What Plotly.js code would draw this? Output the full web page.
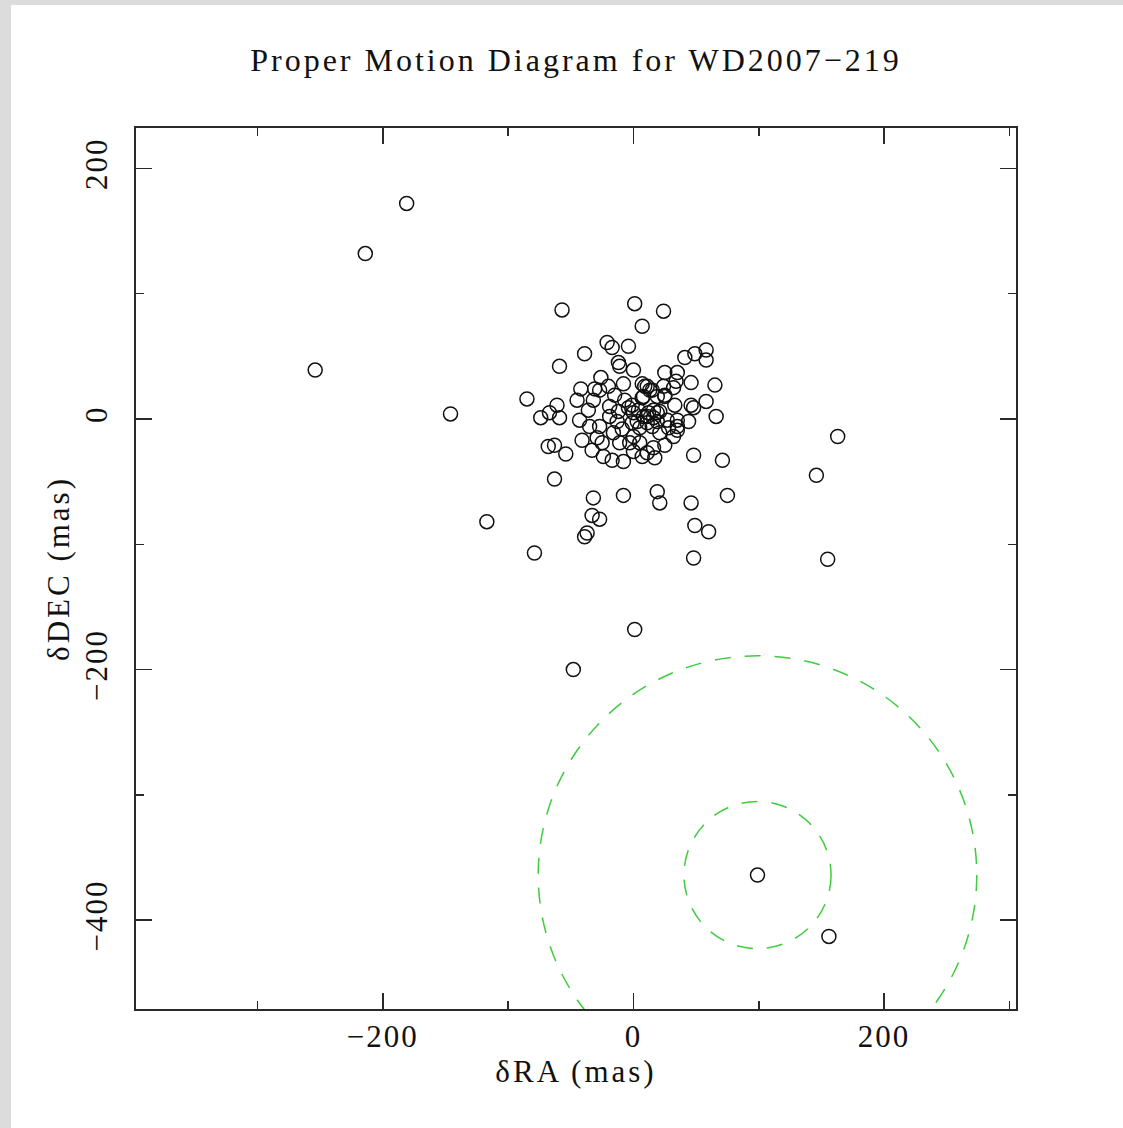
<!DOCTYPE html>
<html>
<head>
<meta charset="utf-8">
<script src="https://cdn.plot.ly/plotly-3.0.1.min.js"></script>
<style>
  html, body { margin: 0; padding: 0; background: #dcdcdc; }
  #chart { position: absolute; left: 11px; top: 5px; width: 1112px; height: 1123px; background: #fff; }
  .gtitle, .g-xtitle text, .g-ytitle text { letter-spacing: 3px; }
  .xtick text, .ytick text { letter-spacing: 2px; }
</style>
</head>
<body>
<div id="chart"></div>
<script>
// Relative proper motions of field stars (mas)
const dRA = [
  -181, -214, -254, -146, -117, -79, -48, 1, 163, 146, 155, 156,
  -57, 1, 24, 7, -21, -17, -4, -39, -59, -12, -11, 0,
  41, 49, 58, 58, 25, 35, -26, -20, -8, 7, 9, 24, 34, 32, 46, 65, 25,
  -42, -31, -45, -85, -61, -67, -74, -59, -19, -1, 7,
  33, 46, 48, 58, 66, 35, 44, 35,
  -35, -41, -29, -25, -16, -9, 0, 5,
  -33, -24, -17, -8, -11, 7, 11, 17, 16, 25, 32, 35,
  -68, -63, -54, 48, 71, -63, -8, 19, 21, 46, 75,
  -32, -33, -27, -37, -39, 49, 60, 48,
  11, 13, 8, 16, 11, 19,
  -4, 0, 4, 8, 12, 16, 3, 11, 19, -1, 5, 15, 21, 27, 25, 19, 15,
  -19, -13, -27, -12, -7, -15, -27, -32, -36, -43, -3, 0, 21, 28
];
const dDEC = [
  172, 132, 39, 4, -82, -107, -200, -168, -14, -45, -112, -413,
  87, 92, 86, 74, 61, 57, 58, 52, 42, 45, 42, 39,
  49, 52, 55, 47, 37, 37, 33, 26, 28, 28, 26, 26, 30, 25, 29, 27, 18,
  24, 24, 15, 16, 11, 5, 1, 1, 10, 11, 17,
  11, 11, 9, 14, 2, -1, -2, -6,
  -6, -17, -15, -19, -11, -8, -14, -19,
  -25, -30, -33, -34, -19, -30, -27, -31, -23, -21, -14, -9,
  -22, -21, -28, -29, -33, -48, -61, -58, -67, -67, -61,
  -63, -77, -80, -91, -94, -85, -90, -111,
  26, 23, 18, 7, 2, 5,
  9, 5, 7, 2, 5, 1, -2, -3, -2, -3, -7, -6, 6, -1, 19, 18, 23,
  2, -2, -6, 6, 15, 19, 23, 15, 7, -1, -19, -26, -11, -7
];

// Target white dwarf and the two search radii around it (mas)
const targetRA = [99];
const targetDEC = [-364];
const ringRadii = [58.7, 175];

const axisColor = '#2a2a2a';
const serif = 'Liberation Serif, Times New Roman, serif';

const rings = ringRadii.map(r => ({
  type: 'circle', xref: 'x', yref: 'y',
  x0: targetRA[0] - r, x1: targetRA[0] + r,
  y0: targetDEC[0] - r, y1: targetDEC[0] + r,
  line: { color: '#3fcc3f', width: 1.5, dash: '16px,14px' }
}));

const traces = [
  {
    type: 'scatter', mode: 'markers', x: dRA, y: dDEC,
    marker: { symbol: 'circle-open', size: 14, color: '#111', line: { width: 1.5, color: '#111' } },
    hoverinfo: 'x+y', showlegend: false
  },
  {
    type: 'scatter', mode: 'markers', x: targetRA, y: targetDEC,
    marker: { symbol: 'circle-open', size: 14, color: '#111', line: { width: 1.5, color: '#111' } },
    hoverinfo: 'x+y', showlegend: false
  }
];

const axisCommon = {
  showgrid: false, zeroline: false,
  showline: true, linecolor: axisColor, linewidth: 2, mirror: 'ticks',
  ticks: 'inside', ticklen: 16, tickwidth: 1.5, tickcolor: axisColor,
  tick0: 0, dtick: 200,
  minor: { dtick: 100, ticks: 'inside', ticklen: 8, tickwidth: 1.5, tickcolor: axisColor, showgrid: false },
  tickfont: { family: serif, size: 31, color: '#111' }
};

const layout = {
  width: 1112, height: 1123,
  margin: { l: 125, r: 107, t: 123, b: 119 },
  paper_bgcolor: '#ffffff', plot_bgcolor: '#ffffff',
  title: {
    text: 'Proper Motion Diagram for WD2007\u2212219',
    font: { family: serif, size: 32, color: '#111' },
    x: 0.5, xref: 'paper', xanchor: 'center',
    y: 1 - 55 / 1123, yref: 'container', yanchor: 'middle'
  },
  xaxis: Object.assign({}, axisCommon, {
    range: [-397, 305.3],
    ticklabelstandoff: -1,
    title: { text: '\u03b4RA (mas)', font: { family: serif, size: 31, color: '#111' }, standoff: 7 }
  }),
  yaxis: Object.assign({}, axisCommon, {
    range: [-470.9, 232.2],
    tickangle: -90,
    ticklabelstandoff: 15,
    title: { text: '\u03b4DEC (mas)', font: { family: serif, size: 31, color: '#111' }, standoff: 0 }
  }),
  shapes: rings
};

Plotly.newPlot('chart', traces, layout, { staticPlot: true });
</script>
</body>
</html>
